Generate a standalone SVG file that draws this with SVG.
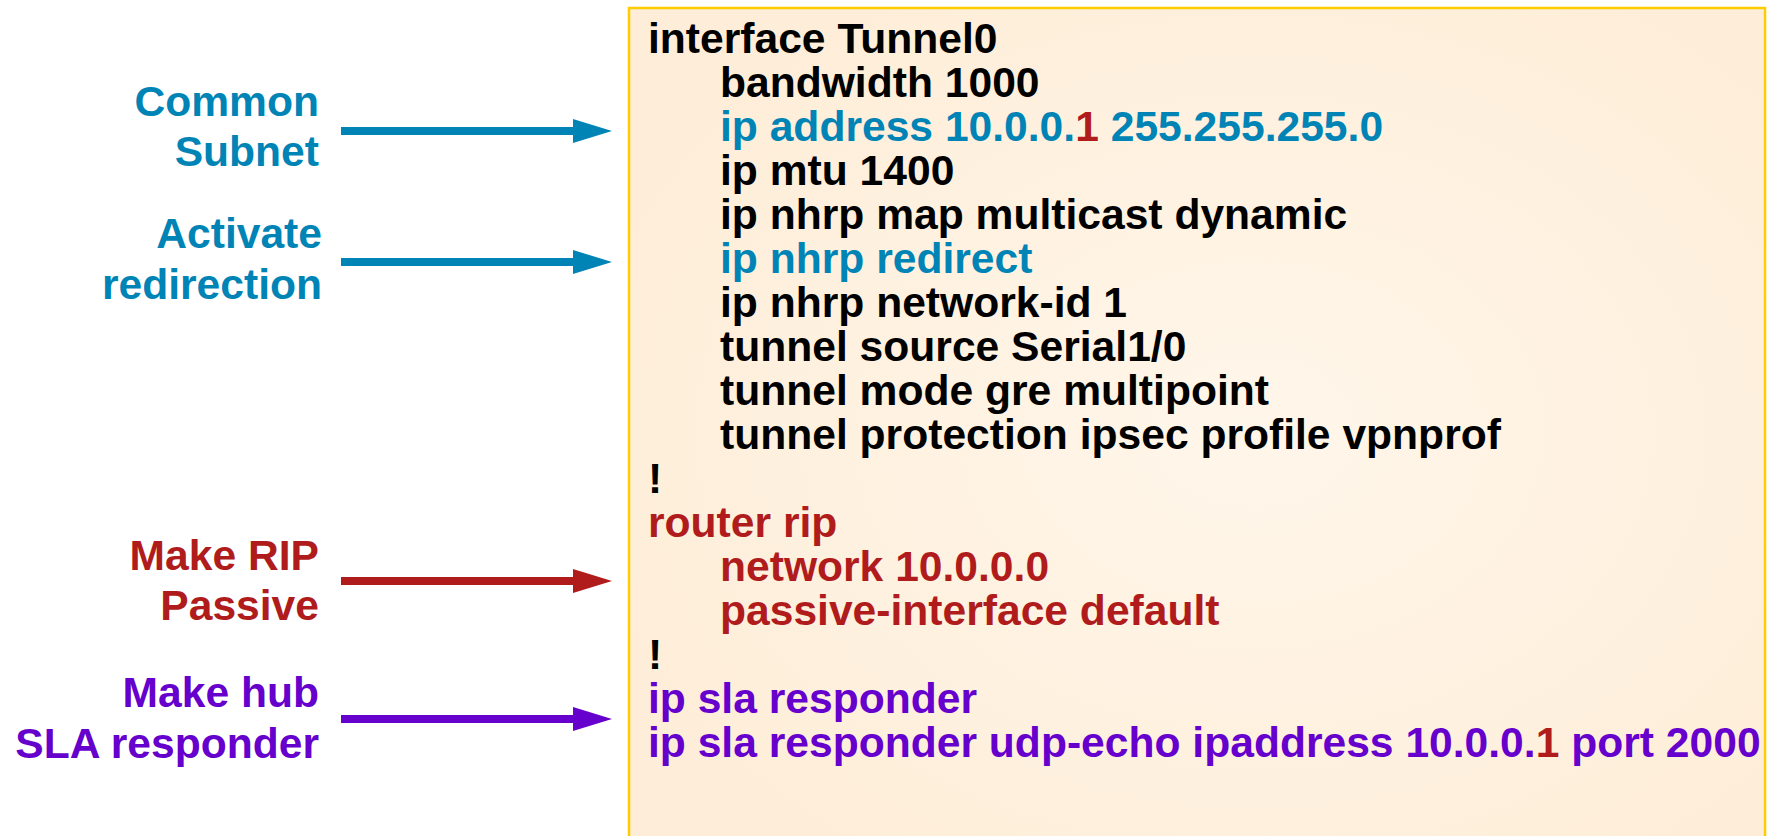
<svg xmlns="http://www.w3.org/2000/svg" width="1781" height="836" viewBox="0 0 1781 836">
<style>
text { font-family: "Liberation Sans", Arial, sans-serif; font-weight: bold; font-size: 42.6px; }
.k { fill: #000000; }
.b { fill: #0084B6; }
.r { fill: #B01B1B; }
.p { fill: #6600CC; }
.lbl { text-anchor: end; }
.sh { stroke-width: 8; fill: none; }
</style>
<defs>
<radialGradient id="bg" cx="0.55" cy="0.5" r="0.6">
<stop offset="0" stop-color="#FFF6EA"/>
<stop offset="1" stop-color="#FEEED9"/>
</radialGradient>
<marker id="mb" markerUnits="userSpaceOnUse" markerWidth="40" markerHeight="26" refX="12" refY="13" orient="auto" viewBox="0 0 40 26"><path d="M0,1 L39,13 L0,25 z" fill="#0084B6"/></marker>
<marker id="mr" markerUnits="userSpaceOnUse" markerWidth="40" markerHeight="26" refX="12" refY="13" orient="auto" viewBox="0 0 40 26"><path d="M0,1 L39,13 L0,25 z" fill="#B01B1B"/></marker>
<marker id="mp" markerUnits="userSpaceOnUse" markerWidth="40" markerHeight="26" refX="12" refY="13" orient="auto" viewBox="0 0 40 26"><path d="M0,1 L39,13 L0,25 z" fill="#6600CC"/></marker>
</defs>
<rect width="1781" height="836" fill="#FFFFFF"/>
<g id="config">
<rect x="629" y="8" width="1136" height="850" fill="url(#bg)" stroke="#FFCC00" stroke-width="2.5"/>
<text x="648" y="53" class="k">interface Tunnel0</text>
<text x="720" y="97" class="k">bandwidth 1000</text>
<text x="720" y="141" class="b">ip address 10.0.0.<tspan class="r">1</tspan> 255.255.255.0</text>
<text x="720" y="185" class="k">ip mtu 1400</text>
<text x="720" y="229" class="k">ip nhrp map multicast dynamic</text>
<text x="720" y="273" class="b">ip nhrp redirect</text>
<text x="720" y="317" class="k">ip nhrp network-id 1</text>
<text x="720" y="361" class="k">tunnel source Serial1/0</text>
<text x="720" y="405" class="k">tunnel mode gre multipoint</text>
<text x="720" y="449" class="k">tunnel protection ipsec profile vpnprof</text>
<text x="648" y="493" class="k">!</text>
<text x="648" y="537" class="r">router rip</text>
<text x="720" y="581" class="r">network 10.0.0.0</text>
<text x="720" y="625" class="r">passive-interface default</text>
<text x="648" y="669" class="k">!</text>
<text x="648" y="713" class="p">ip sla responder</text>
<text x="648" y="757" class="p">ip sla responder udp-echo ipaddress 10.0.0.<tspan class="r">1</tspan> port 2000</text>
</g>
<g id="label-common-subnet">
<text x="319" y="116" class="b lbl">Common</text>
<text x="319" y="166" class="b lbl">Subnet</text>
</g>
<g id="label-activate-redirection">
<text x="322" y="248" class="b lbl">Activate</text>
<text x="322" y="299" class="b lbl">redirection</text>
</g>
<g id="label-make-rip-passive">
<text x="319" y="570" class="r lbl">Make RIP</text>
<text x="319" y="620" class="r lbl">Passive</text>
</g>
<g id="label-make-hub-sla">
<text x="319" y="707" class="p lbl">Make hub</text>
<text x="319" y="758" class="p lbl">SLA responder</text>
</g>
<g id="connectors">
<line x1="341" y1="131" x2="585" y2="131" class="sh" stroke="#0084B6" marker-end="url(#mb)"/>
<line x1="341" y1="262" x2="585" y2="262" class="sh" stroke="#0084B6" marker-end="url(#mb)"/>
<line x1="341" y1="581" x2="585" y2="581" class="sh" stroke="#B01B1B" marker-end="url(#mr)"/>
<line x1="341" y1="719" x2="585" y2="719" class="sh" stroke="#6600CC" marker-end="url(#mp)"/>
</g>
</svg>
